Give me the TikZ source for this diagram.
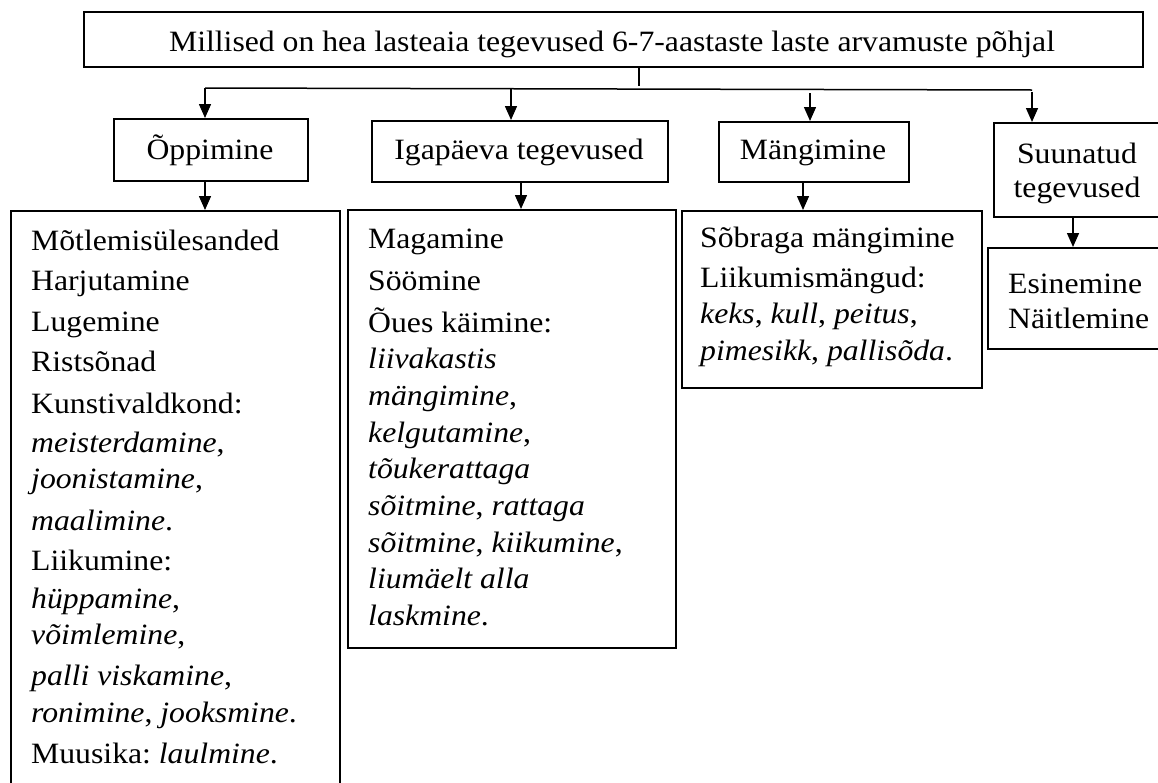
\documentclass[tikz,border=0pt]{standalone}
\usepackage{fontspec}
\setmainfont[FakeStretch=1.075]{Liberation Serif}
\usetikzlibrary{arrows.meta}
\tikzset{
  box/.style={draw, line width=1.5pt, inner sep=0pt, anchor=north west},
  txt/.style={inner sep=0pt, font=\fontsize{29.5}{36}\selectfont},
  conn/.style={line width=1.5pt},
  arr/.style={line width=1.5pt, -{Triangle[length=14pt,width=12pt]}},
}
\begin{document}
\begin{tikzpicture}[x=1pt,y=-1pt]
\useasboundingbox (0,0) rectangle (1158,782);
\clip (0,0) rectangle (1158,782);
% boxes
\node[box, minimum width=1059pt, minimum height=55pt] (title) at (83,11) {};
\node[box, minimum width=194pt, minimum height=62pt] (opp) at (113,118) {};
\node[box, minimum width=296pt, minimum height=61pt] (iga) at (371,120) {};
\node[box, minimum width=190pt, minimum height=60pt] (man) at (718,121) {};
\node[box, minimum width=169pt, minimum height=94pt] (suu) at (993,122) {};
\node[box, minimum width=329pt, minimum height=600pt] (oppl) at (10,210) {};
\node[box, minimum width=328pt, minimum height=438pt] (igal) at (347,209) {};
\node[box, minimum width=300pt, minimum height=177pt] (manl) at (681,210) {};
\node[box, minimum width=175pt, minimum height=101pt] (esi) at (987,247) {};
% texts
\node[txt, anchor=base] (titlet) at (612,51) {Millised on hea lasteaia tegevused 6-7-aastaste laste arvamuste põhjal};
\node[txt, anchor=base] (oppt) at (210,159) {Õppimine};
\node[txt, anchor=base] (igat) at (519,159) {Igapäeva tegevused};
\node[txt, anchor=base] (mant) at (813,159) {Mängimine};
\node[txt, anchor=base] (suut1) at (1077,163) {Suunatud};
\node[txt, anchor=base] (suut2) at (1077,197) {tegevused};
\node[txt, anchor=base west] (esit1) at (1008,293) {Esinemine};
\node[txt, anchor=base west] (esit2) at (1008,328) {Näitlemine};
\foreach \t/\y [count=\i] in {
  {Mõtlemisülesanded}/250, {Harjutamine}/290, {Lugemine}/331, {Ristsõnad}/371,
  {Kunstivaldkond:}/413, {\textit{meisterdamine},}/452, {\textit{joonistamine},}/488,
  {\textit{maalimine}.}/530, {Liikumine:}/570, {\textit{hüppamine},}/608,
  {\textit{võimlemine},}/644, {\textit{palli viskamine},}/685,
  {\textit{ronimine}, \textit{jooksmine}.}/722, {Muusika:~\textit{laulmine}.}/763}
  \node[txt, anchor=base west] (ol\i) at (31,\y) {\t};
\foreach \t/\y [count=\i] in {
  {Magamine}/248, {Söömine}/290, {Õues käimine:}/332, {\textit{liivakastis}}/368,
  {\textit{mängimine},}/405, {\textit{kelgutamine},}/442, {\textit{tõukerattaga}}/478,
  {\textit{sõitmine}, \textit{rattaga}}/515, {\textit{sõitmine}, \textit{kiikumine},}/552,
  {\textit{liumäelt alla}}/588, {\textit{laskmine}.}/625}
  \node[txt, anchor=base west] (il\i) at (368,\y) {\t};
\foreach \t/\y [count=\i] in {
  {Sõbraga mängimine}/247, {Liikumismängud:}/287,
  {\textit{keks}, \textit{kull}, \textit{peitus},}/323,
  {\textit{pimesikk}, \textit{pallisõda}.}/360}
  \node[txt, anchor=base west] (ml\i) at (700,\y) {\t};
% connectors
\coordinate (stem) at (639,86);
\coordinate (b1) at (205,88);
\coordinate (b2) at (511,89);
\coordinate (b3) at (810,93);
\coordinate (b4) at (1032,90);
\coordinate (b4s) at (1032,92);
\draw[conn] (title.south -| stem) -- (stem);
\draw[conn] (b1) -- (b4);
\draw[arr] (b1) -- (b1 |- opp.north);
\draw[arr] (b2) -- (b2 |- iga.north);
\draw[arr] (b3) -- (b3 |- man.north);
\draw[arr] (b4s) -- (b4s |- suu.north);
\coordinate (d1) at (205,0);
\coordinate (d2) at (521,0);
\coordinate (d3) at (803,0);
\coordinate (d4) at (1073,0);
\draw[arr] (d1 |- opp.south) -- (d1 |- oppl.north);
\draw[arr] (d2 |- iga.south) -- (d2 |- igal.north);
\draw[arr] (d3 |- man.south) -- (d3 |- manl.north);
\draw[arr] (d4 |- suu.south) -- (d4 |- esi.north);
\end{tikzpicture}
\end{document}
